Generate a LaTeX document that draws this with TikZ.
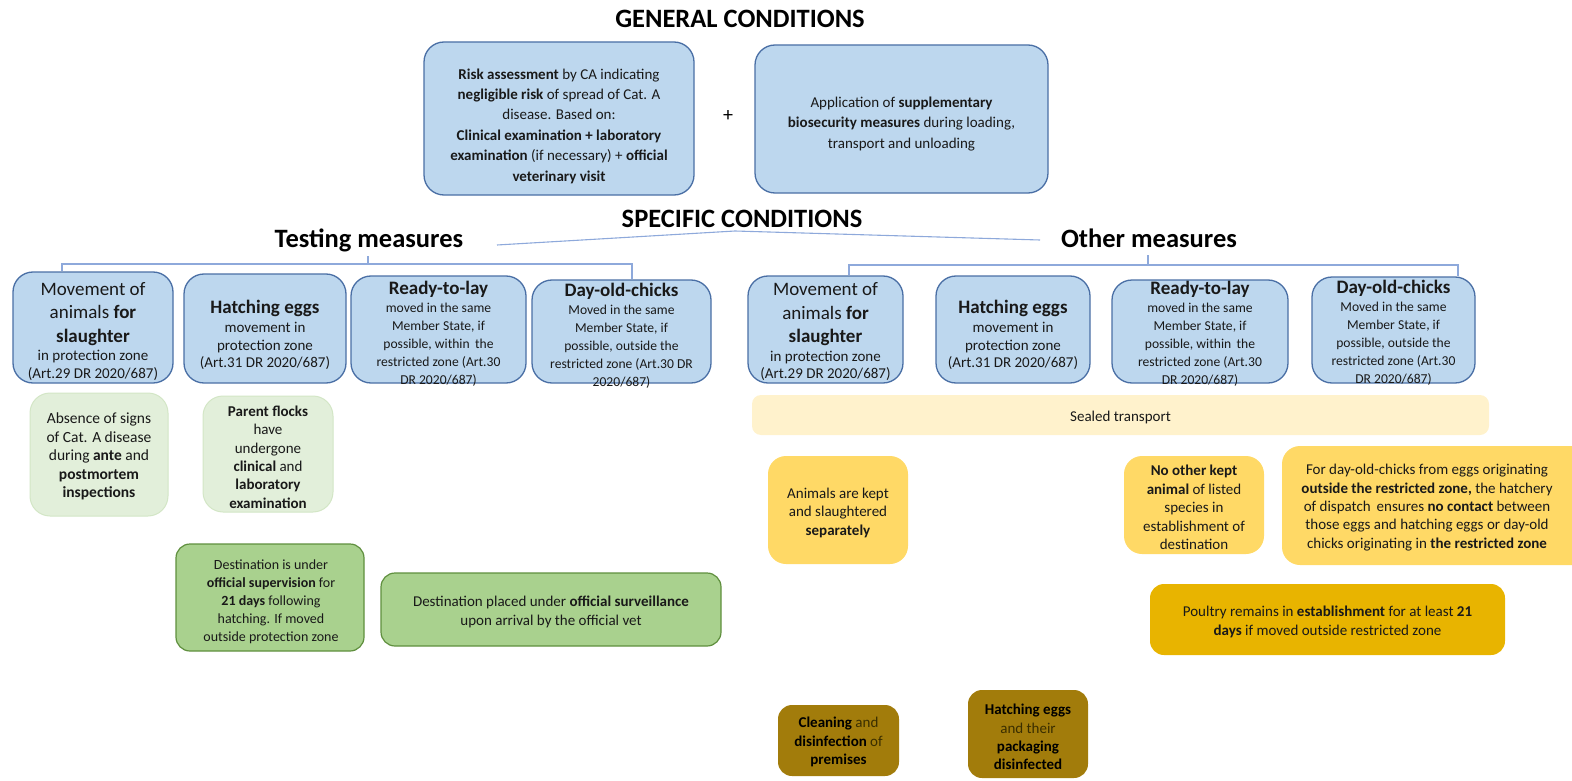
\documentclass[tikz,border=0pt]{standalone}
\usepackage{fontspec}
\setmainfont{Carlito}
\definecolor{bfill}{HTML}{BDD7EE}
\definecolor{bdraw}{HTML}{4A6FA5}
\definecolor{lnk}{HTML}{8EA9DB}
\definecolor{lgfill}{HTML}{E2EFDA}
\definecolor{lgdraw}{HTML}{D3E6C6}
\definecolor{mgfill}{HTML}{A9D18E}
\definecolor{mgdraw}{HTML}{5F8F3E}
\definecolor{sfill}{HTML}{FFF2CC}
\definecolor{yfill}{HTML}{FFD966}
\definecolor{gfill}{HTML}{E8B400}
\definecolor{brfill}{HTML}{A27C0B}
\definecolor{brtext}{HTML}{3A2E00}
\newcommand\hdf{\fontsize{19}{23}\selectfont}
\tikzset{
  boxbase/.style={rectangle, inner sep=0pt},
  bluebox/.style={boxbase, rounded corners=20pt, fill=bfill, draw=bdraw, line width=1.3pt},
  lgbox/.style={boxbase, rounded corners=20pt, fill=lgfill, draw=lgdraw, line width=1pt},
  mgbox/.style={boxbase, rounded corners=14pt, fill=mgfill, draw=mgdraw, line width=1.2pt},
  sbox/.style={boxbase, rounded corners=9pt, fill=sfill},
  ybox/.style={boxbase, rounded corners=18pt, fill=yfill},
  gbox/.style={boxbase, rounded corners=14pt, fill=gfill},
  brbox/.style={boxbase, rounded corners=14pt, fill=brfill},
  txt/.style={align=center, inner sep=0pt, text=black!90, font=\fontsize{15}{20.4}\selectfont},
  stxt/.style={align=center, inner sep=0pt, text=black!90, font=\fontsize{13.6}{18}\selectfont},
  mtxt/.style={align=center, inner sep=0pt, text=black!90, font=\fontsize{15}{17.5}\selectfont},
  title/.style={inner sep=0pt, font=\fontsize{26.5}{30}\selectfont\bfseries},
  link/.style={draw=lnk, line width=1.1pt}
}
\begin{document}
\begin{tikzpicture}[x=1pt,y=-1pt]
\useasboundingbox (0,0) rectangle (1572,781);
% ---------- General conditions
\node[title] (gen) at (740,19) {GENERAL CONDITIONS};
\node[bluebox, minimum width=270, minimum height=153] (risk) at (559,118.5) {};
\node[txt] (riskt) at (559,126) {\textbf{Risk assessment} by CA indicating\\
\textbf{negligible risk} of spread of Cat. A\\
disease. Based on:\\
\textbf{Clinical examination + laboratory}\\
\textbf{examination} (if necessary) + \textbf{official}\\
\textbf{veterinary visit}};
\node[inner sep=0pt, font=\fontsize{20}{24}\selectfont] (plus) at (728,116) {+};
\node[bluebox, minimum width=293, minimum height=148] (bio) at (901.5,119) {};
\node[txt] (biot) at (901.5,124) {Application of \textbf{supplementary}\\
\textbf{biosecurity measures} during loading,\\
transport and unloading};
% ---------- Specific conditions
\node[title] (spec) at (742,219) {SPECIFIC CONDITIONS};
\node[title] (test) at (369,240) {Testing measures};
\node[title] (other) at (1149,238) {Other measures};
\coordinate (specpeak) at (735,231);
\coordinate (testend) at (497,245);
\coordinate (otherend) at (1040,240);
\draw[link] (testend) -- (specpeak) -- (otherend);
% ---------- brackets
\coordinate (tbr) at (368,264);
\coordinate (obr) at (1148,265);
% ---------- Testing measures boxes
\node[bluebox, minimum width=160, minimum height=111] (L1) at (93,327.5) {};
\node[mtxt] (L1t) at (93,331.5) {{\hdf Movement of}\\[6pt]{\hdf animals \textbf{for}}\\[6pt]{\hdf\textbf{slaughter}}\\[1pt]in protection zone\\(Art.29 DR 2020/687)};
\node[bluebox, minimum width=162, minimum height=109] (L2) at (265,328.5) {};
\node[mtxt] (L2t) at (265,335) {{\hdf\textbf{Hatching eggs}}\\[2pt]movement in\\protection zone\\(Art.31 DR 2020/687)};
\node[bluebox, minimum width=175, minimum height=107] (L3) at (438.5,329.5) {};
\node[stxt] (L3t) at (438.5,333.5) {{\hdf\textbf{Ready-to-lay}}\\moved in the same\\Member State, if\\possible, within\, the\\restricted zone (Art.30\\DR 2020/687)};
\node[bluebox, minimum width=179, minimum height=103] (L4) at (621.5,331.5) {};
\node[stxt] (L4t) at (621.5,336) {{\hdf\textbf{Day-old-chicks}}\\Moved in the same\\Member State, if\\possible, outside the\\restricted zone (Art.30 DR\\2020/687)};
\draw[link] (L1.north -| 62,0) -- (62,264) -- (632,264) -- (L4.north -| 632,0);
\draw[link] (368,256) -- (tbr);
% ---------- Other measures boxes
\node[bluebox, minimum width=155, minimum height=107] (R1) at (825.5,329.5) {};
\node[mtxt] (R1t) at (825.5,332) {{\hdf Movement of}\\[6pt]{\hdf animals \textbf{for}}\\[6pt]{\hdf\textbf{slaughter}}\\[1pt]in protection zone\\(Art.29 DR 2020/687)};
\node[bluebox, minimum width=154, minimum height=107] (R2) at (1013,329.5) {};
\node[mtxt] (R2t) at (1013,335) {{\hdf\textbf{Hatching eggs}}\\[2pt]movement in\\protection zone\\(Art.31 DR 2020/687)};
\node[bluebox, minimum width=176, minimum height=103] (R3) at (1200,331.5) {};
\node[stxt] (R3t) at (1200,334) {{\hdf\textbf{Ready-to-lay}}\\moved in the same\\Member State, if\\possible, within\, the\\restricted zone (Art.30\\DR 2020/687)};
\node[bluebox, minimum width=163, minimum height=106] (R4) at (1393.5,330) {};
\node[stxt] (R4t) at (1393.5,333) {{\hdf\textbf{Day-old-chicks}}\\Moved in the same\\Member State, if\\possible, outside the\\restricted zone (Art.30\\DR 2020/687)};
\draw[link] (R1.north -| 849,0) -- (849,265) -- (1458,265) -- (R4.north -| 1458,0);
\draw[link] (1148,255) -- (obr);
% ---------- Testing measures conditions
\node[lgbox, minimum width=138, minimum height=123] (G1) at (99,454.5) {};
\node[txt, font=\fontsize{15.5}{18.4}\selectfont] (G1t) at (99,456.5) {Absence of signs\\of Cat. A disease\\during \textbf{ante} and\\\textbf{postmortem}\\\textbf{inspections}};
\node[lgbox, minimum width=130, minimum height=116] (G2) at (268,454) {};
\node[txt, font=\fontsize{15}{18.4}\selectfont] (G2t) at (268,457) {\textbf{Parent flocks}\\have\\undergone\\\textbf{clinical} and\\\textbf{laboratory}\\\textbf{examination}};
\node[mgbox, minimum width=188, minimum height=107] (G3) at (270,597.5) {};
\node[txt, font=\fontsize{14}{18}\selectfont] (G3t) at (271,602) {Destination is under\\\textbf{official supervision} for\\\textbf{21 days} following\\hatching. If moved\\outside protection zone};
\node[mgbox, minimum width=340, minimum height=73] (G4) at (551,609.5) {};
\node[txt, font=\fontsize{15}{18.5}\selectfont] (G4t) at (551,612) {Destination placed under \textbf{official surveillance}\\upon arrival by the official vet};
% ---------- Other measures conditions
\node[sbox, minimum width=737, minimum height=40] (seal) at (1120.5,415) {};
\node[txt] (sealt) at (1120.5,417) {Sealed transport};
\node[ybox, minimum width=140, minimum height=108] (Y1) at (838,510) {};
\node[txt, font=\fontsize{15}{18.5}\selectfont] (Y1t) at (838,512.5) {Animals are kept\\and slaughtered\\\textbf{separately}};
\node[ybox, minimum width=140, minimum height=98] (Y2) at (1194,505) {};
\node[txt, font=\fontsize{15}{18.4}\selectfont] (Y2t) at (1194,507.5) {\textbf{No other kept}\\\textbf{animal} of listed\\species in\\establishment of\\destination};
\node[ybox, minimum width=310, minimum height=119] (Y3) at (1437,505.5) {};
\node[txt, font=\fontsize{15}{18.4}\selectfont] (Y3t) at (1427,507.5) {For day-old-chicks from eggs originating\\\textbf{outside the restricted zone,} the hatchery\\of dispatch\, ensures \textbf{no contact} between\\those eggs and hatching eggs or day-old\\chicks originating in \textbf{the restricted zone}};
\node[gbox, minimum width=355, minimum height=71] (Y4) at (1327.5,619.5) {};
\node[txt, font=\fontsize{15}{18.5}\selectfont] (Y4t) at (1327.5,622) {Poultry remains in \textbf{establishment} for at least \textbf{21}\\\textbf{days} if moved outside restricted zone};
\node[brbox, minimum width=121, minimum height=71] (B1) at (838.5,740.5) {};
\node[txt, text=brtext, font=\fontsize{15}{18.2}\selectfont] (B1t) at (838.5,742) {\textbf{\color{black}Cleaning} and\\\textbf{\color{black}disinfection} of\\\textbf{\color{black}premises}};
\node[brbox, minimum width=120, minimum height=88] (B2) at (1028,734) {};
\node[txt, text=brtext, font=\fontsize{15}{18.2}\selectfont] (B2t) at (1028,737) {\textbf{\color{black}Hatching eggs}\\and their\\\textbf{\color{black}packaging}\\\textbf{\color{black}disinfected}};
\end{tikzpicture}
\end{document}
